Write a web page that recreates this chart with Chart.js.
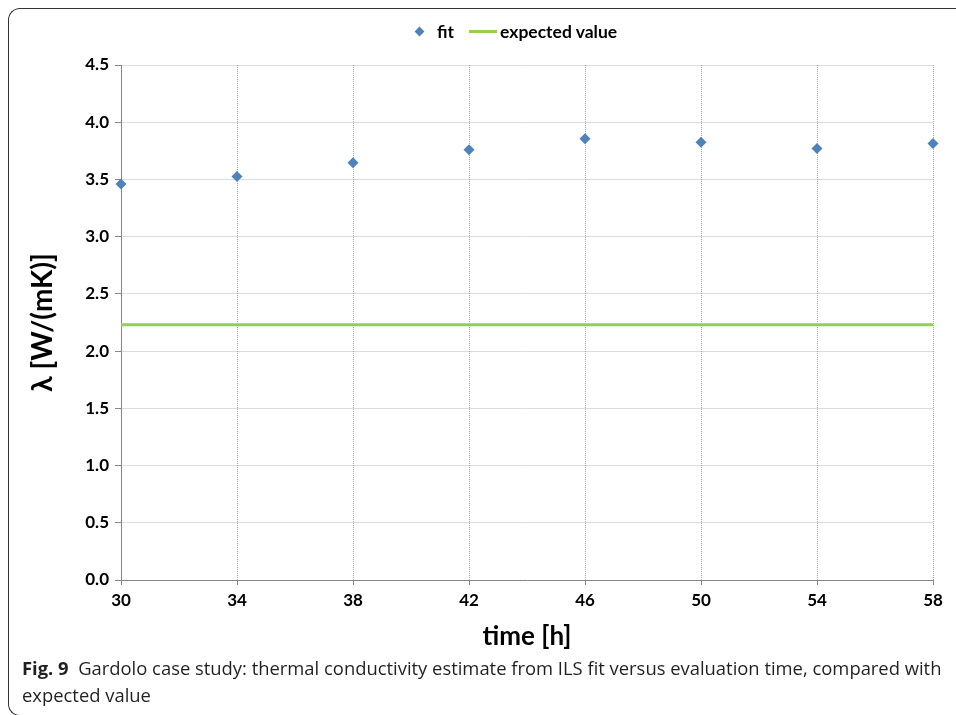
<!DOCTYPE html>
<html>
<head>
<meta charset="utf-8">
<script src="https://cdn.jsdelivr.net/npm/chart.js@4/dist/chart.umd.min.js"></script>
<style>
  body { margin: 0; background: #fff; }
  .page { position: relative; width: 956px; height: 715px; overflow: hidden; }
  .frame {
    position: absolute; left: 8px; top: 8px; width: 1100px; height: 706px;
    border-top: 1.5px solid #333; border-left: 1.5px solid #333; border-bottom: 1.5px solid #333;
    border-radius: 12px 0 0 12px;
  }
  .chart-box { position: absolute; left: 0; top: 0; width: 956px; height: 660px; }
  .legend {
    position: absolute; top: 19px; left: 416px; white-space: nowrap;
    font: bold 17.5px Lato, sans-serif; color: #000;
  }
  .legend span { display: inline-block; vertical-align: middle; }
  .legend .diamond { width: 7px; height: 7px; background: #4f81bd; transform: rotate(45deg); margin-right: 14px; }
  .legend .line { width: 28px; height: 3px; background: #92d050; margin-left: 15px; margin-right: 3px; }
  .caption {
    position: absolute; left: 22px; top: 654px; width: 940px; white-space: nowrap;
    font: 18.4px "Open Sans", sans-serif; line-height: 27px; color: #231f20;
  }
  .caption b { font-weight: bold; }
</style>
</head>
<body>
<div class="page">
<div class="frame"></div>
<div class="chart-box"><canvas id="fitChart"></canvas></div>
<div class="legend"><span class="diamond"></span><span>fit</span><span class="line"></span><span>expected value</span></div>
<div class="caption"><b>Fig. 9</b>&nbsp; Gardolo case study: thermal conductivity estimate from ILS fit versus evaluation time, compared with<br>expected value</div>
</div>

<script>
// Data
const times = [30, 34, 38, 42, 46, 50, 54, 58]
const fitValues = [3.46, 3.525, 3.645, 3.76, 3.855, 3.825, 3.77, 3.815]
const expectedValue = 2.23
const xTicks = [30, 34, 38, 42, 46, 50, 54, 58]
const yTicks = [0, 0.5, 1, 1.5, 2, 2.5, 3, 3.5, 4, 4.5]

const tickFont = { family: "Lato, sans-serif", size: 17, weight: "bold" }

const ctx = document.getElementById("fitChart")
new Chart(ctx, {
  type: "scatter",
  data: {
    datasets: [
      {
        label: "fit",
        data: times.map((t, i) => ({ x: t, y: fitValues[i] })),
        pointStyle: "rectRot",
        pointRadius: 5.5,
        backgroundColor: "#4f81bd",
        borderColor: "#4f81bd",
        borderWidth: 0,
        clip: false,
      },
      {
        label: "expected value",
        type: "line",
        data: [
          { x: times[0], y: expectedValue },
          { x: times[times.length - 1], y: expectedValue },
        ],
        borderColor: "#92d050",
        borderWidth: 3,
        pointRadius: 0,
        fill: false,
      },
    ],
  },
  options: {
    responsive: true,
    maintainAspectRatio: false,
    animation: false,
    layout: { padding: { left: 0, right: 23, top: 65, bottom: 0 } },
    plugins: {
      legend: { display: false },
      tooltip: { enabled: false },
    },
    scales: {
      x: {
        type: "linear",
        min: 30,
        max: 58,
        afterBuildTicks: (scale) => {
          scale.ticks = xTicks.map((v) => ({ value: v }))
        },
        afterFit: (scale) => {
          scale.height = 80
        },
        border: { color: "#868686", width: 1 },
        grid: {
          drawOnChartArea: false,
          tickColor: "#868686",
          tickLength: 5,
        },
        ticks: { font: tickFont, color: "#000", padding: 5, maxRotation: 0 },
        title: {
          display: true,
          text: "time [h]",
          font: { family: "Lato, sans-serif", size: 26, weight: "bold" },
          color: "#000",
          padding: { top: 0, bottom: 8 },
        },
      },
      y: {
        min: 0,
        max: 4.5,
        afterBuildTicks: (scale) => {
          scale.ticks = yTicks.map((v) => ({ value: v }))
        },
        afterFit: (scale) => {
          scale.width = 121
        },
        border: { color: "#868686", width: 1 },
        grid: {
          color: "#dcdcdc",
          tickColor: "#868686",
          tickLength: 6,
        },
        ticks: {
          font: tickFont,
          color: "#000",
          padding: 6,
          callback: (value) => value.toFixed(1),
        },
        title: {
          display: true,
          text: "λ [W/(mK)]",
          font: { family: "Lato, sans-serif", size: 28, weight: "bold" },
          color: "#000",
          padding: { top: 26, bottom: 0 },
        },
      },
    },
  },
  plugins: [
    {
      // dotted vertical grid lines, as in the original
      id: "dottedXGrid",
      beforeDatasetsDraw(chart) {
        const { ctx, chartArea, scales } = chart
        ctx.save()
        ctx.strokeStyle = "#a6a6a6"
        ctx.lineWidth = 1
        ctx.setLineDash([1, 1])
        xTicks.slice(1).forEach((v) => {
          const px = Math.round(scales.x.getPixelForValue(v)) + 0.5
          ctx.beginPath()
          ctx.moveTo(px, chartArea.top)
          ctx.lineTo(px, chartArea.bottom)
          ctx.stroke()
        })
        ctx.restore()
      },
    },
  ],
})
</script>
</body>
</html>
